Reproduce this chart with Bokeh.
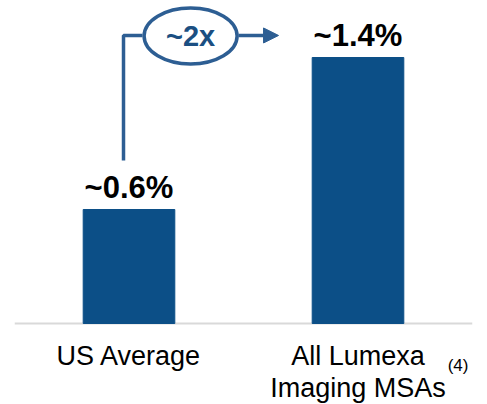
from bokeh.plotting import figure
from bokeh.models import FactorRange, Range1d, Span, Arrow, NormalHead
from bokeh.core.properties import value
from bokeh.embed import file_html
from bokeh.resources import INLINE

# Data
categories = ["US Average", "All Lumexa Imaging MSAs"]
category_lines = ["US Average", "All Lumexa\nImaging MSAs"]
rates = [0.6, 1.4]
value_labels = [f"~{v}%" for v in rates]
multiple_label = "~2x"
footnote = "(4)"

BAR = "#0C4F87"
ACCENT = "#2D5E93"
ACCENT_TEXT = "#1B4F82"
FONT = value("Liberation Sans")

p = figure(
    width=487, height=404,
    x_range=FactorRange(factors=categories, range_padding=0),
    y_range=Range1d(-81 / 190, 323 / 190),
    output_backend="svg", toolbar_location=None,
    min_border_left=14, min_border_right=15, min_border_top=0, min_border_bottom=0,
)
p.axis.visible = False
p.grid.visible = False
p.outline_line_color = None
p.background_fill_color = "white"

# Baseline
p.add_layout(Span(location=0, dimension="width", line_color="#D9D9D9",
                  line_width=2, level="underlay"))

# Bars
p.vbar(x=categories, top=rates, width=0.40, color=BAR)

# Value labels above bars
p.text(x=categories, y=rates, text=value_labels, y_offset=-22,
       text_align="center", text_baseline="middle",
       text_font=FONT, text_font_style="bold", text_font_size="31px",
       text_color="black")

# Category labels under the baseline
p.text(x=categories, y=[-0.09, -0.09], text=category_lines,
       text_align="center", text_baseline="top", text_line_height=1.08,
       text_font=FONT, text_font_size="27px", text_color="black")

# Footnote marker
p.text(x=[1.937], y=[-0.222], text=[footnote],
       text_align="center", text_baseline="middle",
       text_font=FONT, text_font_size="17px", text_color="black")

# Growth bracket: rises from the first bar, passes through the badge, points at the second
y_link = 1.516
p.line(x=[0.476, 0.476, 0.559], y=[0.858, y_link, y_link],
       line_color=ACCENT, line_width=3.5)
p.ellipse(x=[0.769], y=[1.513], width=93, height=56,
          width_units="screen", height_units="screen",
          fill_color="white", line_color=ACCENT, line_width=3.5)
p.text(x=[0.769], y=[1.513], text=[multiple_label],
       text_align="center", text_baseline="middle",
       text_font=FONT, text_font_style="bold", text_font_size="29px",
       text_color=ACCENT_TEXT)
p.add_layout(Arrow(x_start=0.978, y_start=y_link, x_end=1.153, y_end=y_link,
                   line_color=ACCENT, line_width=3.5,
                   end=NormalHead(size=15, fill_color=ACCENT, line_color=ACCENT)))

open("out.html", "w").write(file_html(p, INLINE))
